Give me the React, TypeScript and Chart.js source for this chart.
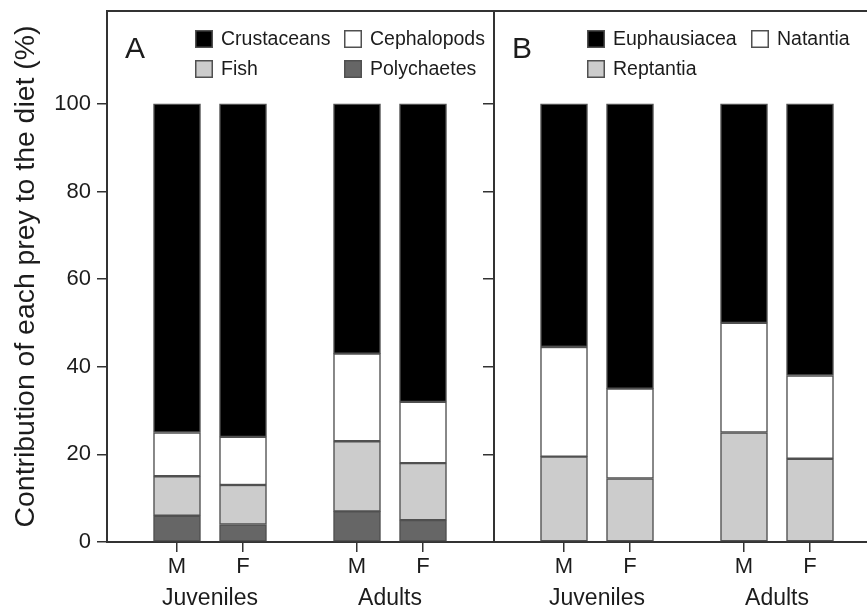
import React, { useEffect, useRef } from 'react';
import { Chart, registerables } from 'chart.js';

Chart.register(...registerables);

const FONT = '"Liberation Sans", Arial, Helvetica, sans-serif';
const TEXT = '#1c1c1c';
const AXIS = '#333333';
const EDGE = '#505050';

const SEXES = ['M', 'F'];
const AGE_GROUPS = ['Juveniles', 'Adults'];

// Panel A: prey groups (%), order juvenile M, juvenile F, adult M, adult F
const crustaceans = [75, 76, 57, 68];
const cephalopods = [10, 11, 20, 14];
const fish = [9, 9, 16, 13];
const polychaetes = [6, 4, 7, 5];

// Panel B: crustacean prey (%), same order
const euphausiacea = [55.5, 65, 50, 62];
const natantia = [25, 20.5, 25, 19];
const reptantia = [19.5, 14.5, 25, 19];

const Y_TICKS = [0, 20, 40, 60, 80, 100];

// x scale runs in pixel-like units: two panels side by side
const PANEL_WIDTH = 387;
const PANEL_STARTS = [0, PANEL_WIDTH];
const SLOT_OFFSETS = [70, 136, 250, 316];
const X_MAX = 760;
const Y_MAX = 121.2;

const COLORS = {
  black: '#000000',
  white: '#ffffff',
  light: '#cccccc',
  dark: '#666666',
};

const slotsFor = (panel: number) => SLOT_OFFSETS.map((o) => PANEL_STARTS[panel] + o);
const points = (panel: number, values: number[]) => {
  const xs = slotsFor(panel);
  return values.map((v, i) => ({ x: xs[i], y: v }));
};

const barStyle = (color: string) => ({
  backgroundColor: color,
  borderColor: EDGE,
  borderWidth: 1.5,
  borderSkipped: false as const,
  barThickness: 47,
});

const PANELS = [
  {
    letter: 'A',
    panel: 0,
    columns: [88, 237],
    items: [
      { label: 'Crustaceans', color: COLORS.black, col: 0, row: 0 },
      { label: 'Cephalopods', color: COLORS.white, col: 1, row: 0 },
      { label: 'Fish', color: COLORS.light, col: 0, row: 1 },
      { label: 'Polychaetes', color: COLORS.dark, col: 1, row: 1 },
    ],
  },
  {
    letter: 'B',
    panel: 1,
    columns: [93, 257],
    items: [
      { label: 'Euphausiacea', color: COLORS.black, col: 0, row: 0 },
      { label: 'Natantia', color: COLORS.white, col: 1, row: 0 },
      { label: 'Reptantia', color: COLORS.light, col: 0, row: 1 },
    ],
  },
];

const panelDecor = {
  id: 'panelDecor',
  afterDraw(chart: any) {
    const { ctx, chartArea } = chart;
    const x = chart.scales.x;
    ctx.save();
    ctx.fillStyle = TEXT;

    // age-group labels under each M/F pair
    ctx.font = `23px ${FONT}`;
    ctx.textAlign = 'center';
    ctx.textBaseline = 'middle';
    PANEL_STARTS.forEach((_, p) => {
      const xs = slotsFor(p);
      AGE_GROUPS.forEach((g, gi) => {
        const a = x.getPixelForValue(xs[gi * 2]);
        const b = x.getPixelForValue(xs[gi * 2 + 1]);
        ctx.fillText(g, (a + b) / 2, chartArea.bottom + 57);
      });
    });

    // panel letters and legends
    PANELS.forEach((p) => {
      const left = x.getPixelForValue(PANEL_STARTS[p.panel]);
      ctx.fillStyle = TEXT;
      ctx.font = `30px ${FONT}`;
      ctx.textAlign = 'left';
      ctx.textBaseline = 'alphabetic';
      ctx.fillText(p.letter, left + 18, chartArea.top + 47);

      ctx.font = `19.5px ${FONT}`;
      ctx.textBaseline = 'middle';
      p.items.forEach((it) => {
        const sx = left + p.columns[it.col];
        const sy = chartArea.top + 19 + it.row * 30;
        ctx.fillStyle = it.color;
        ctx.fillRect(sx, sy, 18, 18);
        ctx.strokeStyle = EDGE;
        ctx.lineWidth = 1.5;
        ctx.strokeRect(sx + 0.75, sy + 0.75, 16.5, 16.5);
        ctx.fillStyle = TEXT;
        ctx.fillText(it.label, sx + 26, sy + 9.5);
      });
    });
    ctx.restore();
  },
};

export default function App() {
  const canvasRef = useRef<HTMLCanvasElement | null>(null);

  useEffect(() => {
    if (!canvasRef.current) return;
    const yTickSet = (scale: any) => {
      scale.ticks = Y_TICKS.map((v) => ({ value: v }));
    };
    const chart = new Chart(canvasRef.current, {
      type: 'bar',
      data: {
        datasets: [
          { label: 'Polychaetes', data: points(0, polychaetes), ...barStyle(COLORS.dark) },
          { label: 'Fish', data: points(0, fish), ...barStyle(COLORS.light) },
          { label: 'Cephalopods', data: points(0, cephalopods), ...barStyle(COLORS.white) },
          { label: 'Crustaceans', data: points(0, crustaceans), ...barStyle(COLORS.black) },
          { label: 'Reptantia', data: points(1, reptantia), ...barStyle(COLORS.light) },
          { label: 'Natantia', data: points(1, natantia), ...barStyle(COLORS.white) },
          { label: 'Euphausiacea', data: points(1, euphausiacea), ...barStyle(COLORS.black) },
        ] as any,
      },
      options: {
        animation: false,
        responsive: true,
        maintainAspectRatio: false,
        layout: { padding: 0 },
        plugins: {
          legend: { display: false },
          tooltip: { enabled: false },
        },
        scales: {
          x: {
            type: 'linear',
            stacked: true,
            offset: false,
            min: 0,
            max: X_MAX,
            afterBuildTicks: (scale: any) => {
              scale.ticks = [...slotsFor(0), ...slotsFor(1)].map((v) => ({ value: v }));
            },
            afterFit: (scale: any) => {
              scale.height = 68;
              scale.paddingLeft = 0;
              scale.paddingRight = 0;
            },
            ticks: {
              autoSkip: false,
              maxRotation: 0,
              padding: 2,
              color: TEXT,
              font: { family: FONT, size: 22 },
              callback: (_v: any, i: number) => SEXES[i % 2],
            },
            grid: {
              offset: false,
              drawOnChartArea: false,
              drawTicks: true,
              tickLength: 10,
              color: AXIS,
              lineWidth: 1.5,
            },
            border: { display: true, color: AXIS, width: 2 },
          },
          xTop: {
            type: 'linear',
            position: 'top',
            offset: false,
            min: 0,
            max: X_MAX,
            afterFit: (scale: any) => {
              scale.height = 11;
              scale.paddingLeft = 0;
              scale.paddingRight = 0;
            },
            ticks: { display: false },
            grid: { display: false, drawTicks: false },
            border: { display: true, color: AXIS, width: 2 },
          },
          y: {
            type: 'linear',
            stacked: true,
            min: 0,
            max: Y_MAX,
            afterBuildTicks: yTickSet,
            afterFit: (scale: any) => {
              scale.width = 107;
              scale.paddingTop = 0;
              scale.paddingBottom = 0;
            },
            ticks: {
              padding: 6,
              color: TEXT,
              font: { family: FONT, size: 22 },
            },
            grid: {
              drawOnChartArea: false,
              drawTicks: true,
              tickLength: 10,
              color: AXIS,
              lineWidth: 1.5,
            },
            border: { display: true, color: AXIS, width: 2 },
            title: {
              display: true,
              text: 'Contribution of each prey to the diet (%)',
              color: TEXT,
              font: { family: FONT, size: 28.4 },
              padding: { top: 9, bottom: 0 },
            },
          },
          y2: {
            type: 'linear',
            axis: 'y',
            position: { x: PANEL_WIDTH },
            min: 0,
            max: Y_MAX,
            afterBuildTicks: yTickSet,
            afterFit: (scale: any) => {
              scale.paddingTop = 0;
              scale.paddingBottom = 0;
            },
            ticks: { display: false },
            grid: {
              drawOnChartArea: false,
              drawTicks: true,
              tickLength: 10,
              color: AXIS,
              lineWidth: 1.5,
            },
            border: { display: true, color: AXIS, width: 2 },
          },
        } as any,
      },
      plugins: [panelDecor],
    });
    return () => chart.destroy();
  }, []);

  return (
    <div style={{ position: 'absolute', left: 0, top: 0, width: 867, height: 610, background: '#fff' }}>
      <canvas ref={canvasRef} />
    </div>
  );
}
